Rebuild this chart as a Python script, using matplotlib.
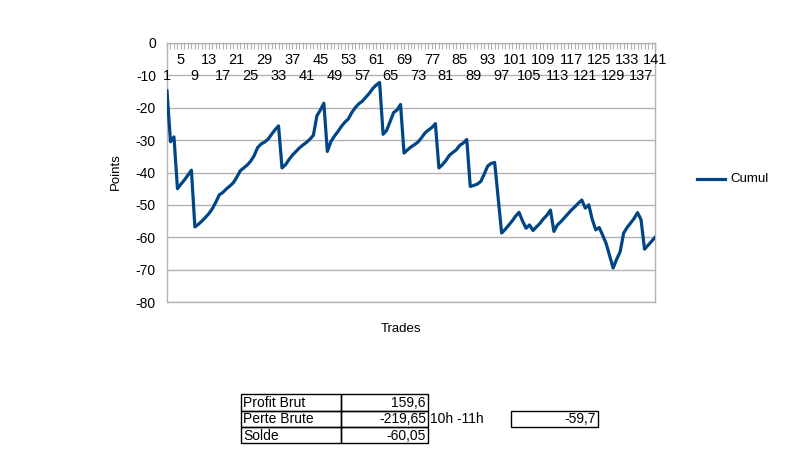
import matplotlib
matplotlib.use("Agg")
import matplotlib.pyplot as plt
from matplotlib.patches import Rectangle
from matplotlib.lines import Line2D

plt.rcParams['font.family'] = ['Liberation Sans', 'DejaVu Sans']

# ---- data ----
series_name = "Cumul"
cumul = [
    -14.8, -30.5, -29.0, -45.0, -43.6, -42.3, -40.8, -39.3, -56.8, -56.0,
    -55.0, -53.9, -52.7, -51.2, -49.2, -46.9, -46.2, -45.1, -44.2, -43.2,
    -41.5, -39.5, -38.6, -37.7, -36.5, -34.8, -32.3, -31.2, -30.6, -29.7,
    -28.2, -26.8, -25.6, -38.6, -37.6, -36.0, -34.6, -33.5, -32.4, -31.5,
    -30.7, -29.7, -28.5, -22.5, -20.7, -18.6, -33.5, -30.5, -28.8, -27.4,
    -25.8, -24.5, -23.5, -21.5, -20.0, -18.8, -18.0, -16.8, -15.6, -14.1,
    -13.0, -12.2, -28.2, -27.0, -24.3, -21.5, -20.7, -19.0, -34.0, -33.0,
    -32.1, -31.4, -30.6, -29.3, -27.8, -26.9, -26.1, -24.9, -38.6, -37.6,
    -36.3, -34.7, -33.8, -33.0, -31.6, -30.9, -29.8, -44.3, -44.0, -43.6,
    -42.8, -40.5, -38.0, -37.2, -36.9, -47.8, -58.7, -57.6, -56.3, -55.0,
    -53.5, -52.3, -55.0, -57.2, -56.2, -57.9, -56.8, -55.7, -54.3, -53.2,
    -51.6, -58.2, -56.2, -55.2, -54.0, -52.8, -51.6, -50.6, -49.5, -48.5,
    -51.0, -50.0, -54.5, -57.7, -57.0, -59.4, -62.0, -65.8, -69.5, -66.8,
    -64.5, -58.7, -57.0, -55.6, -54.2, -52.4, -54.6, -63.7, -62.5, -61.3,
    -60.05,
]
trades = list(range(1, len(cumul) + 1))
label_row_upper = list(range(5, 142, 8))
label_row_lower = list(range(1, 142, 8))
y_ticks = [0, -10, -20, -30, -40, -50, -60, -70, -80]

table_labels = ["Profit Brut", "Perte Brute", "Solde"]
table_values = ["159,6", "-219,65", "-60,05"]
extra_label = "10h -11h"
extra_value = "-59,7"

# ---- figure ----
W, H = 786, 454
fig = plt.figure(figsize=(W / 100, H / 100), dpi=100)
fig.patch.set_facecolor("white")

L, R, T, B = 167, 655, 43, 302
ax = fig.add_axes([L / W, 1 - B / H, (R - L) / W, (B - T) / H])

grid_c = "#b3b3b3"
line_c = "#004586"

ax.plot(trades, cumul, color=line_c, lw=2.3, solid_joinstyle="round", zorder=3)
ax.set_xlim(1, len(cumul))
ax.set_ylim(-80, 0)

ax.set_yticks(y_ticks)
ax.set_yticklabels([str(v) for v in y_ticks], fontsize=10)
ax.yaxis.grid(True, color=grid_c, lw=1)
ax.tick_params(axis="y", length=0, pad=8)

# category ticks on the top (axis crosses at 0)
ax.xaxis.tick_top()
ax.set_xticks(trades)
ax.set_xticklabels([])
ax.tick_params(axis="x", direction="in", length=4, color=grid_c, width=0.8)

for s in ax.spines.values():
    s.set_color(grid_c)
    s.set_linewidth(1)

tr = ax.get_xaxis_transform()
for v in label_row_upper:
    ax.text(v, 0.934, str(v), transform=tr, ha="center", va="center", fontsize=10.5)
for v in label_row_lower:
    ax.text(v, 0.873, str(v), transform=tr, ha="center", va="center", fontsize=10.5)

# axis titles
fig.text(116 / W, 1 - 172 / H, "Points", rotation=90, ha="center", va="center", fontsize=9.5)
fig.text(401 / W, 1 - 329 / H, "Trades", ha="center", va="center", fontsize=9.5)

# legend
fig.add_artist(Line2D([697 / W, 725 / W], [1 - 179 / H, 1 - 179 / H], color=line_c, lw=2.3))
fig.text(730 / W, 1 - 179 / H, series_name, ha="left", va="center", fontsize=9.5)

# table overlay in pixel coordinates
ov = fig.add_axes([0, 0, 1, 1], zorder=5)
ov.set_xlim(0, W)
ov.set_ylim(H, 0)
ov.axis("off")

rows_y = [394, 410.5, 427, 443]
c0, c1, c2, c3, c4 = 241, 341, 428, 511, 598
for i, (lab, val) in enumerate(zip(table_labels, table_values)):
    y0, y1 = rows_y[i], rows_y[i + 1]
    ov.add_patch(Rectangle((c0, y0), c1 - c0, y1 - y0, fill=False, lw=1, ec="black"))
    ov.add_patch(Rectangle((c1, y0), c2 - c1, y1 - y0, fill=False, lw=1, ec="black"))
    ym = (y0 + y1) / 2 + 0.5
    ov.text(c0 + 2, ym, lab, ha="left", va="center", fontsize=10)
    ov.text(c2 - 2, ym, val, ha="right", va="center", fontsize=10)
y0, y1 = rows_y[1], rows_y[2]
ov.add_patch(Rectangle((c3, y0), c4 - c3, y1 - y0, fill=False, lw=1, ec="black"))
ov.text(c2 + 2, (y0 + y1) / 2 + 0.5, extra_label, ha="left", va="center", fontsize=10)
ov.text(c4 - 2, (y0 + y1) / 2 + 0.5, extra_value, ha="right", va="center", fontsize=10)

fig.savefig("out.png", dpi=100)
